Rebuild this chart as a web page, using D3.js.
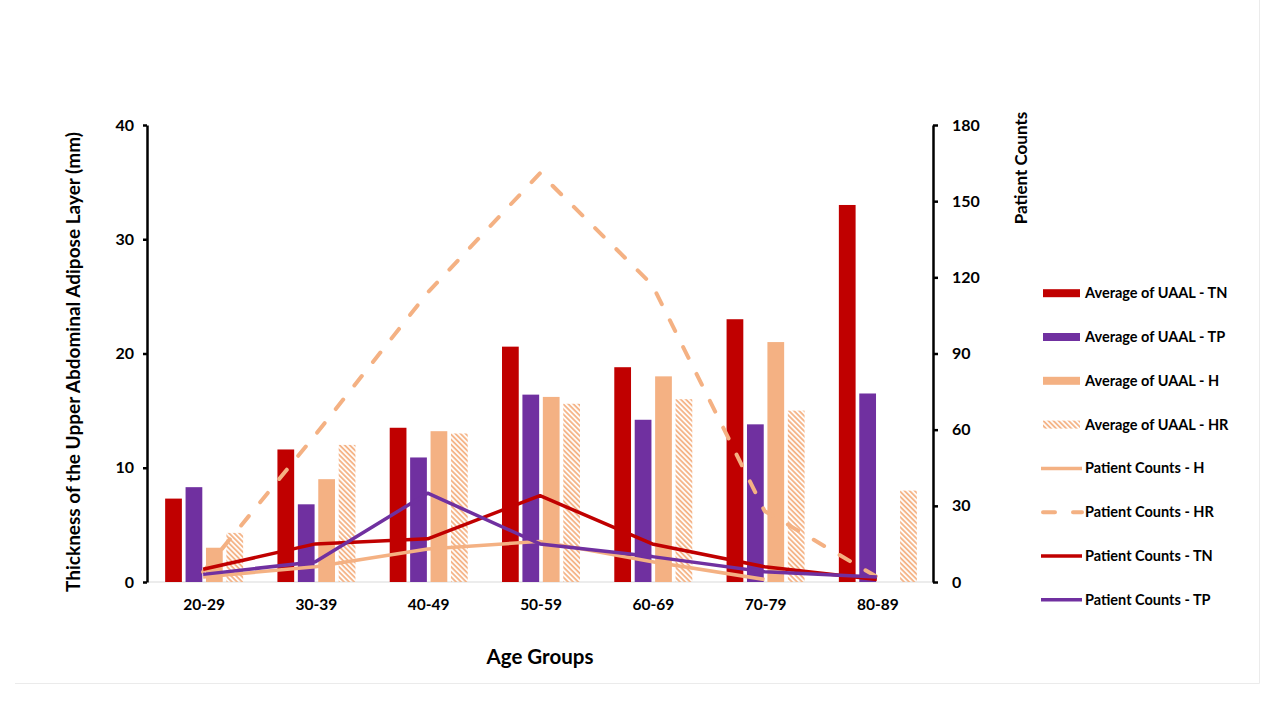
<!DOCTYPE html>
<html>
<head>
<meta charset="utf-8">
<script src="https://cdn.jsdelivr.net/npm/d3@7"></script>
<style>
  body { margin: 0; background: #fff; }
  text { font-family: Lato, "Open Sans", sans-serif; font-weight: bold; fill: #000; }
</style>
</head>
<body>
<div id="chart"></div>
<script>
// age groups and series
const ageGroups = ["20-29", "30-39", "40-49", "50-59", "60-69", "70-79", "80-89"];

// average UAAL thickness (mm), left axis
const uaalTN = [7.3, 11.6, 13.5, 20.6, 18.8, 23.0, 33.0];
const uaalTP = [8.3, 6.8, 10.9, 16.4, 14.2, 13.8, 16.5];
const uaalH  = [3.0, 9.0, 13.2, 16.2, 18.0, 21.0, null];
const uaalHR = [4.3, 12.0, 13.0, 15.6, 16.0, 15.0, 8.0];

// patient counts, right axis
const countsH  = [2, 6, 13, 16, 8, 1, null];
const countsHR = [4, 58, 114, 161, 117, 28, 2];
const countsTN = [5, 15, 17, 34, 15, 6, 1];
const countsTP = [3, 8, 35, 15, 10, 4, 2];

const leftTicks = [0, 10, 20, 30, 40];
const rightTicks = [0, 30, 60, 90, 120, 150, 180];

const RED = "#C00000", PURPLE = "#7030A0", SALMON = "#F4B183";

const barSeries = [
  { name: "Average of UAAL - TN", values: uaalTN, fill: RED },
  { name: "Average of UAAL - TP", values: uaalTP, fill: PURPLE },
  { name: "Average of UAAL - H",  values: uaalH,  fill: SALMON },
  { name: "Average of UAAL - HR", values: uaalHR, fill: "url(#hatch)" }
];
const lineSeries = [
  { name: "Patient Counts - H",  values: countsH,  color: SALMON, dash: null },
  { name: "Patient Counts - HR", values: countsHR, color: SALMON, dash: "12 18" },
  { name: "Patient Counts - TN", values: countsTN, color: RED,    dash: null },
  { name: "Patient Counts - TP", values: countsTP, color: PURPLE, dash: null }
];

const W = 1280, H = 720;
const plot = { left: 147, right: 933, top: 125, bottom: 582 };

const svg = d3.select("#chart").append("svg")
    .attr("width", W)
    .attr("height", H);

svg.append("rect").attr("width", W).attr("height", H).attr("fill", "#fff");

// hatch pattern for the HR bars
const defs = svg.append("defs");
defs.append("pattern")
    .attr("id", "hatch")
    .attr("patternUnits", "userSpaceOnUse")
    .attr("width", 3.6)
    .attr("height", 3.6)
    .attr("patternTransform", "rotate(-45)")
  .append("line")
    .attr("x1", 1).attr("y1", 0)
    .attr("x2", 1).attr("y2", 3.6)
    .attr("stroke", SALMON)
    .attr("stroke-width", 1.8);

// chart frame (bottom and right edges only are visible)
svg.append("path")
    .attr("d", "M15,683.5H1259.5V0")
    .attr("fill", "none")
    .attr("stroke", "#ebebeb")
    .attr("stroke-width", 1);

const x0 = d3.scaleBand()
    .domain(ageGroups)
    .range([plot.left, plot.right])
    .padding(0);

const groupW = 78;
const x1 = d3.scaleBand()
    .domain(barSeries.map(s => s.name))
    .range([0, groupW])
    .paddingInner(0.18);

const yL = d3.scaleLinear().domain([0, 40]).range([plot.bottom, plot.top]);
const yR = d3.scaleLinear().domain([0, 180]).range([plot.bottom, plot.top]);

// baseline
svg.append("line")
    .attr("x1", plot.left).attr("x2", plot.right)
    .attr("y1", plot.bottom).attr("y2", plot.bottom)
    .attr("stroke", "#d9d9d9")
    .attr("stroke-width", 1);

// bars
const groupOffset = (x0.bandwidth() - groupW) / 2 + 1;
barSeries.forEach(s => {
  svg.append("g").selectAll("rect")
      .data(s.values.map((v, i) => ({ cat: ageGroups[i], v: v })).filter(d => d.v != null))
    .enter().append("rect")
      .attr("x", d => x0(d.cat) + groupOffset + x1(s.name))
      .attr("y", d => yL(d.v))
      .attr("width", x1.bandwidth())
      .attr("height", d => yL(0) - yL(d.v))
      .attr("fill", s.fill);
});

// lines
const line = d3.line()
    .defined(d => d.v != null)
    .x(d => x0(d.cat) + x0.bandwidth() / 2)
    .y(d => yR(d.v));

lineSeries.forEach(s => {
  svg.append("path")
      .datum(s.values.map((v, i) => ({ cat: ageGroups[i], v: v })))
      .attr("d", line)
      .attr("fill", "none")
      .attr("stroke", s.color)
      .attr("stroke-width", s.dash ? 4 : 3.5)
      .attr("stroke-linejoin", "round")
      .attr("stroke-linecap", s.dash ? "round" : "butt")
      .attr("stroke-dasharray", s.dash);
});

// axes
const leftAxis = svg.append("g")
    .attr("transform", `translate(${plot.left},0)`)
    .call(d3.axisLeft(yL).tickValues(leftTicks).tickSize(4).tickSizeOuter(0).tickPadding(9));

const rightAxis = svg.append("g")
    .attr("transform", `translate(${plot.right},0)`)
    .call(d3.axisRight(yR).tickValues(rightTicks).tickSize(5).tickSizeOuter(0).tickPadding(14));

[leftAxis, rightAxis].forEach(a => {
  a.select(".domain").attr("stroke", "#000").attr("stroke-width", 2.5);
  a.selectAll(".tick line").attr("stroke", "#000").attr("stroke-width", 2.5);
  a.selectAll(".tick text")
      .style("font-family", "Lato, 'Open Sans', sans-serif")
      .style("font-weight", "bold")
      .style("font-size", "16px")
      .attr("fill", "#000");
});

// category labels
svg.append("g").selectAll("text")
    .data(ageGroups)
  .enter().append("text")
    .attr("x", d => x0(d) + x0.bandwidth() / 2 + 1)
    .attr("y", 605)
    .attr("dy", "0.35em")
    .attr("text-anchor", "middle")
    .style("font-size", "15.5px")
    .text(d => d);

// axis titles
svg.append("text")
    .attr("x", 540)
    .attr("y", 657)
    .attr("dy", "0.35em")
    .attr("text-anchor", "middle")
    .style("font-size", "20.5px")
    .text("Age Groups");

svg.append("text")
    .attr("transform", "translate(73,362) rotate(-90)")
    .attr("dy", "0.35em")
    .attr("text-anchor", "middle")
    .style("font-size", "19px")
    .text("Thickness of the Upper Abdominal Adipose Layer (mm)");

svg.append("text")
    .attr("transform", "translate(1021,168) rotate(-90)")
    .attr("dy", "0.35em")
    .attr("text-anchor", "middle")
    .style("font-size", "17px")
    .text("Patient Counts");

// legend
const legendTop = 293.2, legendStep = 43.8;
const legend = svg.append("g");

barSeries.forEach((s, i) => {
  const y = legendTop + i * legendStep;
  legend.append("rect")
      .attr("x", 1043).attr("y", y - 4)
      .attr("width", 37).attr("height", 8)
      .attr("fill", s.fill);
  legend.append("text")
      .attr("x", 1085).attr("y", y)
      .attr("dy", "0.35em")
      .style("font-size", "14.5px")
      .text(s.name);
});

lineSeries.forEach((s, i) => {
  const y = legendTop + (i + barSeries.length) * legendStep;
  legend.append("line")
      .attr("x1", s.dash ? 1043 : 1041).attr("x2", 1082)
      .attr("y1", y).attr("y2", y)
      .attr("stroke", s.color)
      .attr("stroke-width", s.dash ? 4 : 3.5)
      .attr("stroke-linecap", s.dash ? "round" : "butt")
      .attr("stroke-dasharray", s.dash);
  legend.append("text")
      .attr("x", 1085).attr("y", y)
      .attr("dy", "0.35em")
      .style("font-size", "14.5px")
      .text(s.name);
});
</script>
</body>
</html>
